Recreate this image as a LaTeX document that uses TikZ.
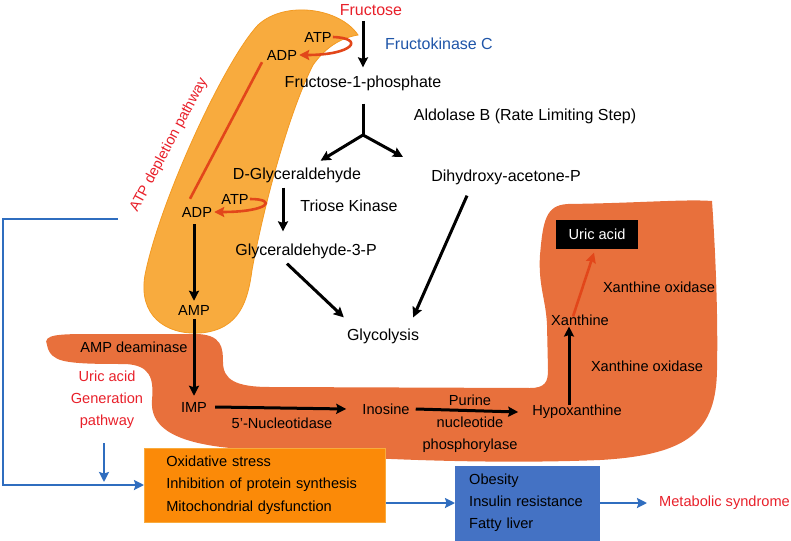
\documentclass[tikz,border=0pt]{standalone}
\usepackage{fontspec}
\setmainfont{Liberation Sans}
\usetikzlibrary{calc,arrows.meta}
\definecolor{ucRed}{HTML}{E8202A}
\definecolor{fkBlue}{HTML}{1F55A8}
\definecolor{arrowRed}{HTML}{E2461A}
\definecolor{lineBlue}{HTML}{2F6DBF}
\definecolor{uaOrange}{HTML}{E8703C}
\definecolor{atpOrange}{HTML}{F8AB3E}
\definecolor{atpEdge}{HTML}{F39A22}
\definecolor{stressOrange}{HTML}{FB8A08}
\definecolor{boxBlue}{HTML}{4472C4}

\begin{document}
\begin{tikzpicture}[x=1pt,y=-1pt,>={Stealth[length=10pt,width=10pt,inset=1.5pt]}]
\tikzset{
  big/.style={inner sep=2pt, font=\fontsize{16}{19}\selectfont},
  small/.style={inner sep=2pt, font=\fontsize{14.6}{22}\selectfont},
  blackArrow/.style={->, line width=3pt},
  redArrow/.style={->, line width=2.6pt, draw=arrowRed},
  blueArrow/.style={->, line width=2.6pt, draw=lineBlue},
}
\useasboundingbox (0,0) rectangle (791,540);

% -------- uric acid generation pathway (background) ----------
\fill[uaOrange] (47,345)
  .. controls (42,334) and (60,334) .. (95,334)
  -- (195,334)
  .. controls (222,334) and (223,348) .. (223,362)
  .. controls (223,380) and (236,387) .. (270,387)
  -- (530,388)
  .. controls (545,388) and (548,382) .. (548,370)
  -- (547,325)
  .. controls (546,300) and (538,285) .. (540,255)
  .. controls (543,220) and (546,205) .. (568,204)
  .. controls (640,203) and (685,199) .. (712,201)
  .. controls (716,260) and (718,320) .. (717,370)
  .. controls (716,430) and (690,455) .. (600,460)
  .. controls (480,465) and (330,458) .. (230,448)
  .. controls (170,442) and (150,425) .. (152,400)
  .. controls (154,378) and (150,365) .. (125,364)
  .. controls (95,364) and (65,364) .. (56,358)
  .. controls (50,355) and (48,350) .. (47,345) -- cycle;

% -------- ATP depletion pathway (background) ----------
\filldraw[fill=atpOrange, draw=atpEdge, line width=0.8pt] (358,35)
  .. controls (340,8) and (285,0) .. (258,25)
  .. controls (225,60) and (160,200) .. (145,275)
  .. controls (138,315) and (165,335) .. (200,333)
  .. controls (240,330) and (248,300) .. (252,270)
  .. controls (265,200) and (290,110) .. (313,65)
  .. controls (325,48) and (340,38) .. (358,35) -- cycle;

% -------- fructose metabolism ----------
\node[big, text=ucRed] (fru) at (371,10) {Fructose};
\node[big, text=fkBlue] (fkc) at (439,44) {Fructokinase C};
\node[small] (atpA) at (318,37) {ATP};
\node[small] (adpA) at (282,55) {ADP};
\node[big] (f1p) at (363,83) {Fructose-1-phosphate};
\node[big] (aldo) at (525,116) {Aldolase B (Rate Limiting Step)};
\coordinate (split) at (363,135);
\coordinate (dhapTip) at (403,157);
\node[big] (dglyc) at (297,175) {D-Glyceraldehyde};
\node[big] (dhap) at (506,177) {Dihydroxy-acetone-P};
\node[small] (atpB) at (235,199) {ATP};
\node[small] (adpB) at (197,212) {ADP};
\node[big] (trk) at (349,206) {Triose Kinase};
\node[big] (g3p) at (306,251) {Glyceraldehyde-3-P};
\node[big] (glyc) at (383,336) {Glycolysis};

\draw[blackArrow] ([yshift=-3pt]fru.south -| f1p.north) -- ([yshift=6pt]f1p.north);
\draw[line width=3pt] ([yshift=-11pt]f1p.south) -- (split);
\draw[blackArrow, shorten >=9pt] (split) -- (dglyc);
\draw[blackArrow] (split) -- (dhapTip);
\draw[blackArrow] ([xshift=-14pt,yshift=-3pt]dglyc.south) -- ([xshift=-14pt,yshift=10pt]dglyc.south |- g3p.north);
\draw[blackArrow] ([xshift=-19pt,yshift=-3pt]g3p.south) -- ([xshift=-1pt,yshift=9pt]glyc.north west);
\draw[blackArrow] ([xshift=-39pt,yshift=-9pt]dhap.south) -- ([xshift=-8pt,yshift=9pt]glyc.north east);

% ATP -> ADP
\draw[redArrow] ([xshift=-1pt]atpA.east) .. controls +(32,1) and +(55,0) .. (adpA.east);
\draw[redArrow] ([xshift=-1pt]atpB.east) .. controls +(28,0) and +(55,0) .. (adpB.east);
\draw[line width=2.6pt, draw=arrowRed] ([xshift=-20pt]adpA.south) -- ([xshift=-7pt,yshift=6pt]adpB.north);
\node[small, text=ucRed, rotate=62] (atpdp) at (169,145) {ATP depletion pathway};

% -------- purine degradation ----------
\node[small] (amp) at (194,310) {AMP};
\node[small] (ampd) at (134,347) {AMP deaminase};
\node[small] (imp) at (194,407) {IMP};
\node[small] (nuc) at (282,423) {5'-Nucleotidase};
\node[small] (ino) at (386,409) {Inosine};
\node[small, align=center] (pnp) at (470,424) {Purine\\nucleotide\\phosphorylase};
\node[small] (hypo) at (577,412) {Hypoxanthine};
\node[small] (xan) at (580,320) {Xanthine};
\node[small] (xo1) at (647,366) {Xanthine oxidase};
\node[small] (xo2) at (659,287) {Xanthine oxidase};
\node[small, fill=black, text=white, minimum width=82pt, minimum height=29pt] (uric) at (597,234) {Uric acid};
\node[small, text=ucRed, align=center] (uagp) at (107,400) {Uric acid\\Generation\\pathway};

\draw[blackArrow] ([yshift=-5pt]adpB.south -| amp.north) -- ([yshift=2pt]amp.north);
\draw[blackArrow] ([yshift=-2pt]amp.south) -- ([yshift=4pt]imp.north);
\draw[blackArrow] ([xshift=6pt]imp.east) -- ([xshift=-14pt]ino.west);
\draw[blackArrow] ([xshift=4pt]ino.east) -- ([xshift=-12pt]hypo.west);
\draw[blackArrow] ([xshift=-8pt,yshift=-2pt]hypo.north) -- ([xshift=-8pt,yshift=1pt]hypo.north |- xan.south);
\draw[redArrow] ([xshift=-7pt,yshift=-4pt]xan.north) -- ([xshift=-3pt,yshift=-4pt]uric.south);

% -------- consequences ----------
\node[small, anchor=west, fill=stressOrange, draw=atpOrange, line width=0.6pt,
      text width=197pt, inner xsep=22pt, minimum height=74pt, align=left,
      font=\fontsize{14.6}{22.5}\selectfont] (stress) at (144,485)
  {Oxidative stress\\Inhibition of protein synthesis\\Mitochondrial dysfunction};
\node[small, anchor=west, fill=boxBlue, text width=117pt, inner xsep=14pt,
      minimum height=75pt, align=left,
      font=\fontsize{14.6}{22}\selectfont] (obes) at (455,503)
  {Obesity\\Insulin resistance\\Fatty liver};
\node[small, anchor=west, text=ucRed] (metsyn) at (657,503) {Metabolic syndrome};

\coordinate (fbStart) at (118,219);
\draw[blueArrow] (fbStart) -- ++(-115,0) |- (stress.west);
\draw[blueArrow] ([xshift=-3pt,yshift=-12pt]uagp.south) -- ([xshift=-3pt,yshift=3pt]uagp.south |- stress.west);
\draw[blueArrow] (stress.east |- obes.west) -- (obes.west);
\draw[blueArrow] (obes.east) -- ([xshift=-10pt]metsyn.west);
\end{tikzpicture}
\end{document}
